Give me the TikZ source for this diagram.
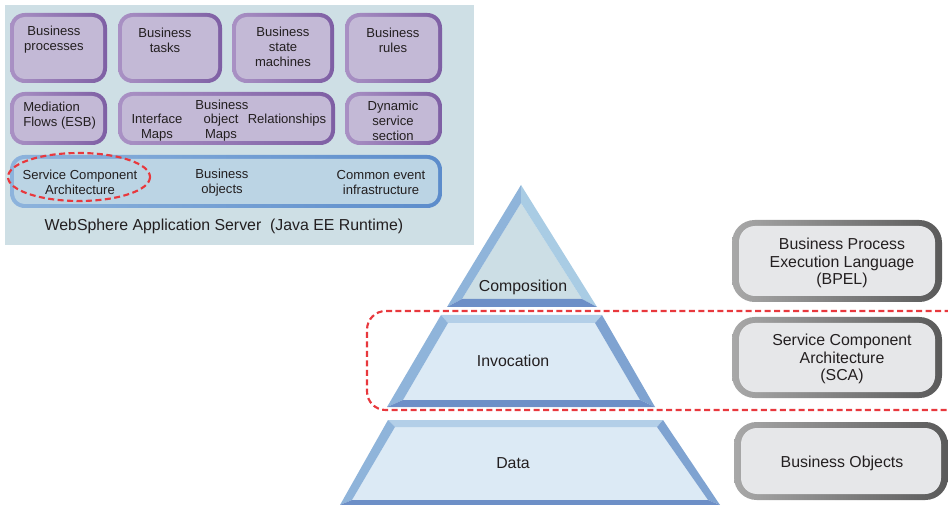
\documentclass[tikz,border=0pt]{standalone}
\usepackage{fontspec}
\setmainfont{Liberation Sans}
\definecolor{panel}{HTML}{CEDFE5}
\definecolor{pL}{HTML}{A991C4}
\definecolor{pR}{HTML}{7E5FA4}
\definecolor{pfill}{HTML}{C3B9D6}
\definecolor{bL}{HTML}{8DB3DC}
\definecolor{bR}{HTML}{5C8CCB}
\definecolor{bfill}{HTML}{BBD4E4}
\definecolor{gL}{HTML}{A8A8A8}
\definecolor{gR}{HTML}{5A5A5A}
\definecolor{gfill}{HTML}{E6E7E9}
\definecolor{redd}{HTML}{E8383D}
\definecolor{facetL}{HTML}{8FB4DA}
\definecolor{facetRl}{HTML}{A9CCE4}
\definecolor{facetRd}{HTML}{7FA3D1}
\definecolor{bandB}{HTML}{6D8FC7}
\definecolor{bandT}{HTML}{B3CFE8}
\definecolor{topfill}{HTML}{CCDEE5}
\definecolor{trapfill}{HTML}{DCEAF5}
\definecolor{txt}{HTML}{231F20}
\newcommand{\purplebox}[4]{%
  \shade[left color=pL, right color=pR, rounded corners=11] (#1,#2) rectangle (#3,#4);
  \fill[pfill, rounded corners=8] (#1+4,#2+4) rectangle (#3-4,#4-4);}
\newcommand{\graybox}[4]{%
  \shade[left color=gL, right color=gR, rounded corners=17] (#1,#2) rectangle (#3,#4);
  \fill[gfill, rounded corners=12] (#1+7,#2+6) rectangle (#3-7,#4-6);}
\begin{document}
\begin{tikzpicture}[x=0.75pt,y=-0.75pt,
  every node/.style={text=txt, font=\fontsize{9.8}{11.3}\selectfont, inner sep=0pt},
  lbl/.style={align=center},
  big/.style={align=center, font=\fontsize{11.9}{13.1}\selectfont},
  reddash/.style={draw=redd, line width=1.6pt, dash pattern=on 4.5pt off 2.6pt}]
\useasboundingbox (0,0) rectangle (948,505);
% panel
\fill[panel] (5,5) rectangle (474,245);
% row 1
\purplebox{10}{13}{107}{83}
\purplebox{118}{13}{222}{83}
\purplebox{232}{13}{334}{83}
\purplebox{345}{13}{442}{83}
% row 2
\purplebox{10}{92}{107}{145}
\purplebox{118}{92}{335}{145}
\purplebox{345}{92}{442}{145}
% row 3
\shade[left color=bL, right color=bR, rounded corners=11] (10,155) rectangle (442,208);
\fill[bfill, rounded corners=8] (14,159) rectangle (438,204);
% texts
\node[lbl] (bp) at (54,40) {Business\\processes};
\node[lbl] (bt) at (165,40) {Business\\tasks};
\node[lbl] (bsm) at (283,47) {Business\\state\\machines};
\node[lbl] (br) at (393,40) {Business\\rules};
\node[align=left, anchor=west] (mf) at (23,116) {Mediation\\Flows (ESB)};
\node (bo1) at (222,105) {Business};
\node[lbl] (im) at (157,127.5) {Interface\\Maps};
\node[lbl] (om) at (221,127.5) {object\\Maps};
\node (rel) at (287,120) {Relationships};
\node[lbl] (dss) at (393,121) {Dynamic\\service\\section};
\node[lbl] (sca1) at (80,182.5) {Service Component\\Architecture};
\node[lbl] (bo2) at (222,182.5) {Business\\objects};
\node[lbl] (cei) at (381,182.5) {Common event\\infrastructure};
\node[big] (was) at (224,226) {WebSphere Application Server\ \ (Java EE Runtime)};
\draw[reddash] (79,177) ellipse [x radius=71, y radius=24];
% pyramid top
\fill[topfill] (521,203) -- (462,299) -- (582,299) -- cycle;
\fill[facetL] (521,185) -- (447,307) -- (462,299) -- (521,203) -- cycle;
\fill[facetRl] (521,185) -- (521,203) -- (582,299) -- (597,307) -- cycle;
\fill[bandB] (447,307) -- (597,307) -- (582,299) -- (462,299) -- cycle;
% middle trapezoid
\fill[trapfill] (448,323) -- (595,323) -- (640,400) -- (403,400) -- cycle;
\fill[bandT] (441,315) -- (602,315) -- (595,323) -- (448,323) -- cycle;
\fill[facetL] (441,315) -- (448,323) -- (403,400) -- (387,407) -- cycle;
\fill[facetRd] (602,315) -- (655,407) -- (640,400) -- (595,323) -- cycle;
\fill[bandB] (387,407) -- (655,407) -- (640,400) -- (403,400) -- cycle;
% bottom trapezoid
\fill[trapfill] (395,427) -- (657,427) -- (708,500) -- (352,500) -- cycle;
\fill[bandT] (388,420) -- (663,420) -- (657,427) -- (395,427) -- cycle;
\fill[facetL] (388,420) -- (395,427) -- (352,500) -- (340,505) -- cycle;
\fill[facetRd] (663,420) -- (720,505) -- (708,500) -- (657,427) -- cycle;
\fill[bandB] (340,505) -- (720,505) -- (708,500) -- (352,500) -- cycle;
\node[big] (comp) at (523,287) {Composition};
\node[big] (inv) at (513,361) {Invocation};
\node[big] (data) at (513,463) {Data};
% red dashed rectangle
\draw[reddash, rounded corners=14] (960,311) -- (367,311) -- (367,410) -- (960,410);
% gray boxes
\graybox{732}{220}{942}{302}
\graybox{732}{317}{942}{398}
\graybox{734}{422}{948}{500}
\node[big] (bpel) at (842,263) {Business Process\\Execution Language\\(BPEL)};
\node[big] (sca2) at (842,359) {Service Component\\Architecture\\(SCA)};
\node[big] (bo3) at (842,463) {Business Objects};
\end{tikzpicture}
\end{document}
